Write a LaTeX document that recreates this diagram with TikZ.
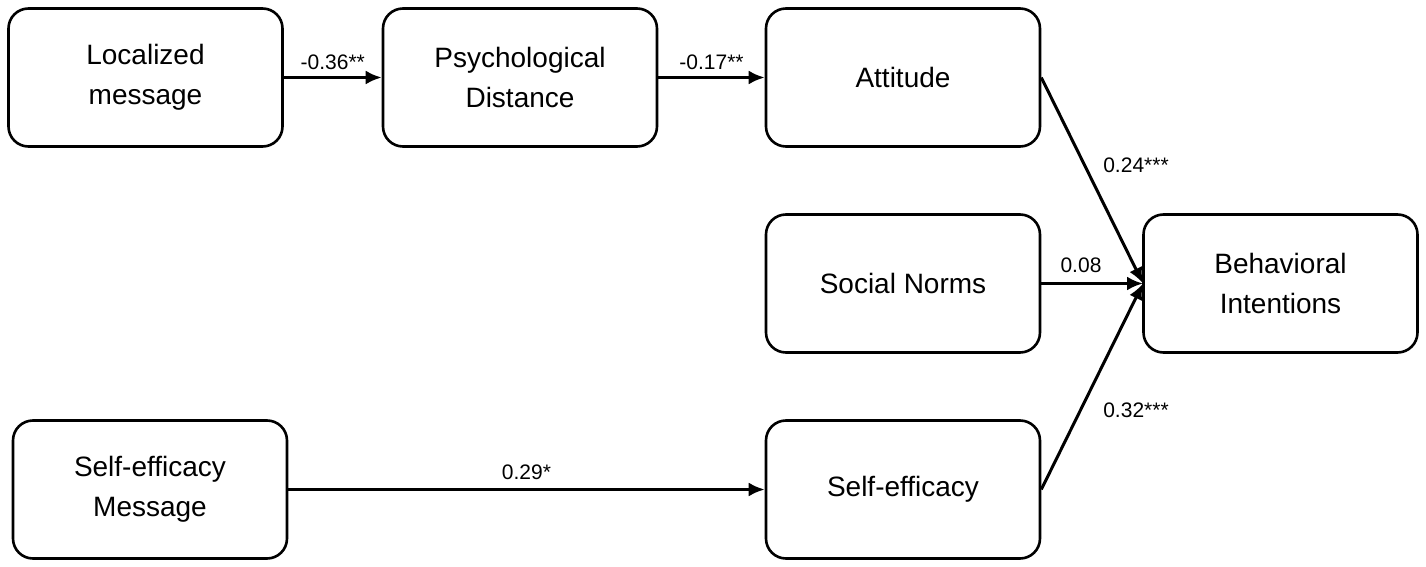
\documentclass[tikz,border=0pt]{standalone}
\usepackage{fontspec}
\setmainfont{Liberation Sans}
\usetikzlibrary{arrows.meta}
\begin{document}
\begin{tikzpicture}[x=0.5pt,y=-0.5pt,
  box/.style={draw,line width=1.3pt,rounded corners=10pt,minimum width=137pt,minimum height=69pt,align=center,font=\fontsize{14}{20}\selectfont},
  arr/.style={line width=1.5pt,-{Latex[length=8pt,width=7pt]}},
  lab/.style={font=\fontsize{10.5}{12}\selectfont,inner sep=1pt}]
\useasboundingbox (0,0) rectangle (1426,567);
\node[box] (loc) at (145.5,77.5) {Localized\\message};
\node[box] (psy) at (520,77.5) {Psychological\\Distance};
\node[box] (att) at (903,77.5) {Attitude};
\node[box] (soc) at (903,283.5) {Social Norms};
\node[box] (beh) at (1280.5,283.5) {Behavioral\\Intentions};
\node[box] (sem) at (150,489.5) {Self-efficacy\\Message};
\node[box] (sef) at (903,489.5) {Self-efficacy};
\coordinate (tip) at (1143,283.5);
\draw[arr] (loc) -- (psy) node[lab,midway,above=2pt] {-0.36**};
\draw[arr] (psy) -- (att) node[lab,midway,above=2pt] {-0.17**};
\draw[arr] (att.east) -- (tip);
\draw[arr] (soc) -- (tip);
\draw[arr] (sef.east) -- (tip);
\draw[arr] (sem) -- (sef) node[lab,midway,above=3pt] {0.29*};
\node[lab] (l1) at (1136,165) {0.24***};
\node[lab] (l2) at (1081,265) {0.08};
\node[lab] (l3) at (1136,410) {0.32***};
\end{tikzpicture}
\end{document}
